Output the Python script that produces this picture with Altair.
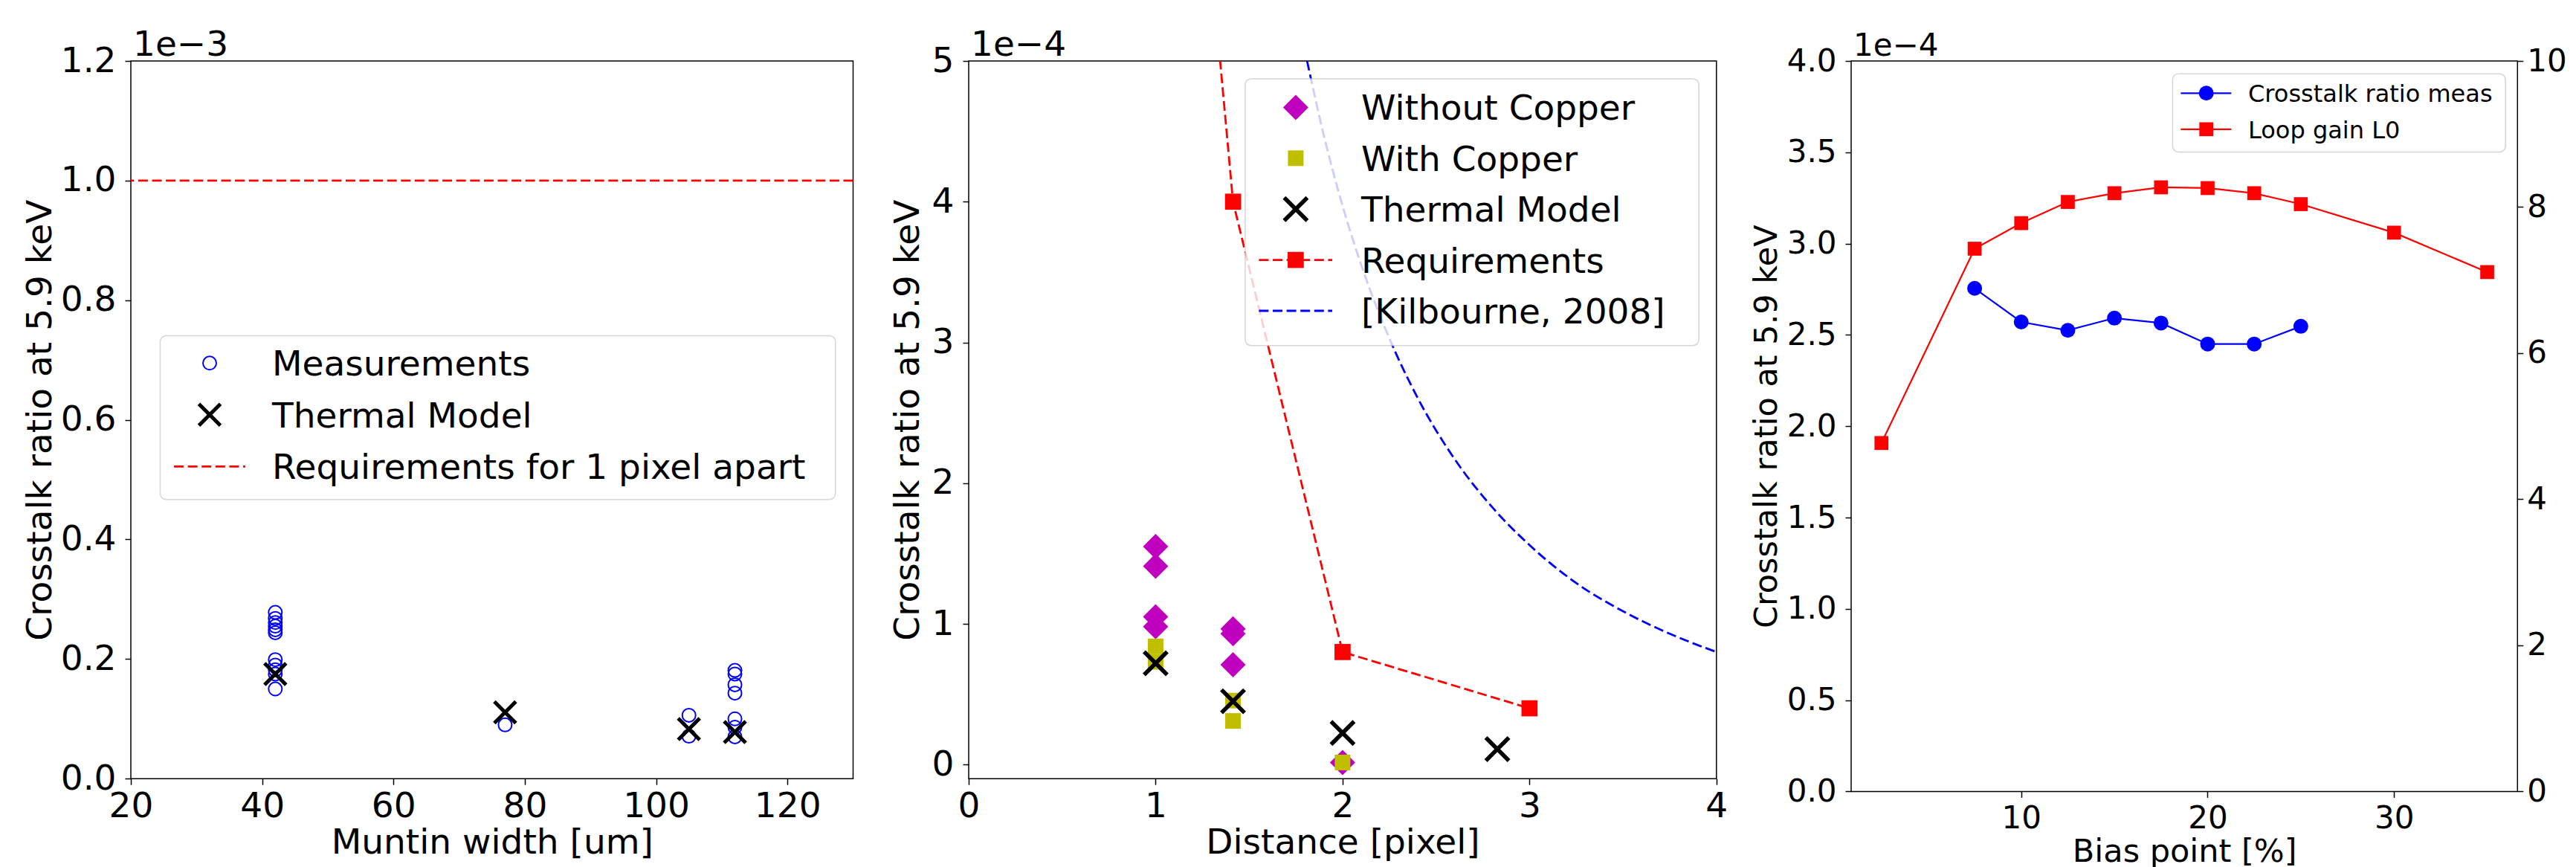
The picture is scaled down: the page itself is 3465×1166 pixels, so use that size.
import altair as alt
import pandas as pd

FONT = "DejaVu Sans"
XSHAPE = "M -1 -1 L 1 1 M -1 1 L 1 -1"
DASH = [13, 5.6]
BLUE, RED, MAG, OLIVE = "#0000ff", "#ff0000", "#bf00bf", "#bfbf00"

# ---------------- data ----------------
# Panel 1: crosstalk ratio (x 1e-3) vs muntin width [um]
meas_width = [42, 42, 42, 42, 42, 42, 42, 42, 42, 42, 42, 77, 105, 105,
              112, 112, 112, 112, 112, 112, 112]
meas_ratio = [0.278, 0.268, 0.261, 0.255, 0.249, 0.244, 0.199, 0.190, 0.182, 0.175, 0.150,
              0.090, 0.106, 0.071, 0.181, 0.175, 0.157, 0.143, 0.100, 0.086, 0.070]
model1_width = [42, 77, 105, 112]
model1_ratio = [0.175, 0.111, 0.083, 0.078]
req1_level = [1.0]
legend1_labels = ["Measurements", "Thermal Model", "Requirements for 1 pixel apart"]

# Panel 2: crosstalk ratio (x 1e-4) vs distance [pixel]
nocu_dist = [1, 1, 1, 1, 1.414, 1.414, 1.414, 2]
nocu_ratio = [1.55, 1.41, 1.05, 0.98, 0.965, 0.93, 0.71, 0.015]
cu_dist = [1, 1, 1.414, 1.414, 2]
cu_ratio = [0.84, 0.73, 0.455, 0.31, 0.015]
model2_dist = [1, 1.414, 2, 2.828]
model2_ratio = [0.72, 0.45, 0.225, 0.11]
req2_dist = [1, 1.414, 2, 3]
req2_ratio = [10.0, 4.0, 0.8, 0.4]
kil_dist = [1.81, 1.9, 2.0, 2.1, 2.25, 2.4, 2.6, 2.8, 3.0, 3.25, 3.5, 3.75, 4.0]
kil_ratio = [5.0, 4.47, 3.97, 3.55, 3.03, 2.61, 2.17, 1.83, 1.56, 1.29, 1.09, 0.93, 0.80]
legend2_labels = ["Without Copper", "With Copper", "Thermal Model", "Requirements", "[Kilbourne, 2008]"]

# Panel 3: crosstalk ratio (x 1e-4) and loop gain vs bias point [%]
bias_meas = [7.5, 10, 12.5, 15, 17.5, 20, 22.5, 25]
xt_meas = [2.755, 2.571, 2.525, 2.592, 2.565, 2.45, 2.45, 2.547]
bias_loop = [2.5, 7.5, 10, 12.5, 15, 17.5, 20, 22.5, 25, 30, 35]
loop_gain = [4.77, 7.43, 7.78, 8.07, 8.19, 8.27, 8.26, 8.19, 8.04, 7.65, 7.11]
legend3_labels = ["Crosstalk ratio meas", "Loop gain L0"]

offset_labels = ["1e\u22123", "1e\u22124", "1e\u22124"]

ONE = pd.DataFrame({"k": [0]})


def xaxis(title, values, fmt, fs_lab, fs_tit, width, title_y, lpad=6, tick=8):
    return alt.Axis(title=title, values=values, format=fmt, grid=False, domain=False,
                    tickSize=tick, tickWidth=1.5, tickColor="black",
                    labelFont=FONT, labelFontSize=fs_lab, labelColor="black", labelPadding=lpad,
                    labelFlush=False, labelOverlap=False,
                    titleFont=FONT, titleFontSize=fs_tit, titleFontWeight="normal", titleColor="black",
                    titleX=width / 2, titleY=title_y, titleBaseline="alphabetic",
                    titleAlign="center", titleAngle=0)


def yaxis(title, values, fmt, fs_lab, fs_tit, height, title_x, lpad=12, tick=8):
    return alt.Axis(title=title, values=values, format=fmt, grid=False, domain=False,
                    tickSize=tick, tickWidth=1.5, tickColor="black",
                    labelFont=FONT, labelFontSize=fs_lab, labelColor="black", labelPadding=lpad,
                    labelFlush=False, labelOverlap=False,
                    titleFont=FONT, titleFontSize=fs_tit, titleFontWeight="normal", titleColor="black",
                    titleX=title_x, titleY=height / 2, titleBaseline="alphabetic",
                    titleAlign="center", titleAngle=270)


def frame(x0, x1, y0, y1):
    return alt.Chart(ONE).mark_rect(fill="white", stroke="#cccccc", strokeWidth=1.5,
                                    cornerRadius=8, opacity=0.8).encode(
        x=alt.value(x0), x2=alt.value(x1), y=alt.value(y0), y2=alt.value(y1))


def sym(x, y, **mk):
    return alt.Chart(ONE).mark_point(opacity=1, **mk).encode(x=alt.value(x), y=alt.value(y))


def seg(x0, x1, y, **mk):
    return alt.Chart(ONE).mark_rule(**mk).encode(x=alt.value(x0), x2=alt.value(x1), y=alt.value(y))


def label(x, y, text, fs):
    return alt.Chart(pd.DataFrame({"t": [text]})).mark_text(
        align="left", baseline="alphabetic", font=FONT, fontSize=fs, color="black").encode(
        x=alt.value(x), y=alt.value(y), text="t:N")


# ---------------- panel 1 ----------------
W1, H1 = 971.5, 965.2
x1s = alt.Scale(domain=[20, 130], nice=False, zero=False)
y1s = alt.Scale(domain=[0, 1.2], nice=False, zero=False)
x1a = xaxis("Muntin width [um]", [20, 40, 60, 80, 100, 120], "d", 47, 47, W1, 100.5)
y1a = yaxis("Crosstalk ratio at 5.9 keV", [0, 0.2, 0.4, 0.6, 0.8, 1.0, 1.2], ".1f", 47, 47, H1, -108)

req1 = alt.Chart(pd.DataFrame({"r": req1_level})).mark_rule(
    color=RED, strokeDash=DASH, strokeWidth=2.8).encode(
    y=alt.Y("r:Q", scale=y1s, axis=y1a))
meas1 = alt.Chart(pd.DataFrame({"w": meas_width, "r": meas_ratio})).mark_point(
    shape="circle", filled=False, color=BLUE, size=324, strokeWidth=2, opacity=1).encode(
    x=alt.X("w:Q", scale=x1s, axis=x1a), y=alt.Y("r:Q", scale=y1s, axis=y1a))
model1 = alt.Chart(pd.DataFrame({"w": model1_width, "r": model1_ratio})).mark_point(
    shape=XSHAPE, filled=False, color="black", size=841, strokeWidth=5, opacity=1).encode(
    x=alt.X("w:Q", scale=x1s, axis=x1a), y=alt.Y("r:Q", scale=y1s, axis=y1a))

p1 = alt.layer(
    req1, meas1, model1,
    label(3, -7, offset_labels[0], 47),
    frame(39.5, 947.8, 369.4, 589.8),
    sym(106, 406.3, shape="circle", filled=False, color=BLUE, size=324, strokeWidth=2),
    label(190, 423.3, legend1_labels[0], 47),
    sym(106, 475.8, shape=XSHAPE, filled=False, color="black", size=841, strokeWidth=5),
    label(190, 492.8, legend1_labels[1], 47),
    seg(58, 154, 545.3, color=RED, strokeDash=DASH, strokeWidth=2.8),
    label(190, 562.3, legend1_labels[2], 47),
    # invisible anchor fixing the canvas origin
    alt.Chart(ONE).mark_rule(opacity=0).encode(
        x=alt.value(-167), x2=alt.value(-166), y=alt.value(-72.8), y2=alt.value(-72.8)),
).properties(width=W1, height=H1)

# ---------------- panel 2 ----------------
W2, H2 = 1005.8, 965.2
x2s = alt.Scale(domain=[0, 4], nice=False, zero=False)
y2s = alt.Scale(domain=[-0.1, 5], nice=False, zero=False)
x2a = xaxis("Distance [pixel]", [0, 1, 2, 3, 4], "d", 47, 47, W2, 100.5)
y2a = yaxis("Crosstalk ratio at 5.9 keV", [0, 1, 2, 3, 4, 5], "d", 47, 47, H2, -68)


def enc2(ch):
    return ch.encode(x=alt.X("d:Q", scale=x2s, axis=x2a), y=alt.Y("r:Q", scale=y2s, axis=y2a))


nocu = enc2(alt.Chart(pd.DataFrame({"d": nocu_dist, "r": nocu_ratio})).mark_point(
    shape="diamond", filled=True, color=MAG, size=1156, opacity=1))
cu = enc2(alt.Chart(pd.DataFrame({"d": cu_dist, "r": cu_ratio})).mark_point(
    shape="square", filled=True, color=OLIVE, size=441, opacity=1))
model2 = enc2(alt.Chart(pd.DataFrame({"d": model2_dist, "r": model2_ratio})).mark_point(
    shape=XSHAPE, filled=False, color="black", size=961, strokeWidth=5.5, opacity=1))
req2_df = pd.DataFrame({"d": req2_dist, "r": req2_ratio})
req2_line = enc2(alt.Chart(req2_df).mark_line(color=RED, strokeDash=DASH, strokeWidth=2.8, clip=True))
req2_pts = enc2(alt.Chart(req2_df).mark_point(
    shape="square", filled=True, color=RED, size=470, opacity=1, clip=True))
kil = enc2(alt.Chart(pd.DataFrame({"d": kil_dist, "r": kil_ratio})).mark_line(
    color=BLUE, strokeDash=DASH, strokeWidth=2.8, clip=True, interpolate="monotone"))

p2 = alt.layer(
    nocu, cu, model2, req2_line, req2_pts, kil,
    label(3, -7, offset_labels[1], 47),
    frame(371.9, 982.1, 23.9, 382.7),
    sym(439.9, 62.4, shape="diamond", filled=True, color=MAG, size=1156),
    label(528, 79.4, legend2_labels[0], 47),
    sym(439.9, 130.8, shape="square", filled=True, color=OLIVE, size=441),
    label(528, 147.8, legend2_labels[1], 47),
    sym(439.9, 199.2, shape=XSHAPE, filled=False, color="black", size=961, strokeWidth=5.5),
    label(528, 216.2, legend2_labels[2], 47),
    seg(390.4, 489, 267.6, color=RED, strokeDash=DASH, strokeWidth=2.8),
    sym(439.9, 267.6, shape="square", filled=True, color=RED, size=470),
    label(528, 284.6, legend2_labels[3], 47),
    seg(390.4, 489, 336.0, color=BLUE, strokeDash=DASH, strokeWidth=2.8),
    label(528, 353.0, legend2_labels[4], 47),
).properties(width=W2, height=H2)

# ---------------- panel 3 ----------------
W3, H3 = 896.3, 982.4
x3s = alt.Scale(domain=[0.875, 36.625], nice=False, zero=False)
y3s = alt.Scale(domain=[0, 4], nice=False, zero=False)
y3rs = alt.Scale(domain=[0, 10], nice=False, zero=False)
x3a = xaxis("Bias point [%]", [10, 20, 30], "d", 42, 43, W3, 94, lpad=8)
y3a = yaxis("Crosstalk ratio at 5.9 keV", [0, 0.5, 1, 1.5, 2, 2.5, 3, 3.5, 4], ".1f", 42, 43, H3, -101)
y3ra = alt.Axis(orient="right", title=None, values=[0, 2, 4, 6, 8, 10], format="d", grid=False,
                domain=False, tickSize=7.5, tickWidth=1.5, tickColor="black",
                labelFont=FONT, labelFontSize=42, labelColor="black", labelPadding=5,
                labelFlush=False, labelOverlap=False)

meas3_df = pd.DataFrame({"b": bias_meas, "v": xt_meas})
loop3_df = pd.DataFrame({"b": bias_loop, "g": loop_gain})
left3 = alt.layer(
    alt.Chart(meas3_df).mark_line(color=BLUE, strokeWidth=2.2),
    alt.Chart(meas3_df).mark_point(shape="circle", filled=True, color=BLUE, size=400, opacity=1),
).encode(x=alt.X("b:Q", scale=x3s, axis=x3a), y=alt.Y("v:Q", scale=y3s, axis=y3a))
right3 = alt.layer(
    alt.Chart(loop3_df).mark_line(color=RED, strokeWidth=2.2),
    alt.Chart(loop3_df).mark_point(shape="square", filled=True, color=RED, size=350, opacity=1),
).encode(x=alt.X("b:Q", scale=x3s, axis=x3a), y=alt.Y("g:Q", scale=y3rs, axis=y3ra))

p3 = alt.layer(
    left3, right3,
    label(3, -7, offset_labels[2], 42),
    frame(432.4, 880.2, 17.2, 122.4),
    seg(443.4, 511.3, 43.3, color=BLUE, strokeWidth=2.2),
    sym(477.7, 43.3, shape="circle", filled=True, color=BLUE, size=400),
    label(534, 55.2, legend3_labels[0], 32),
    seg(443.4, 511.3, 91.8, color=RED, strokeWidth=2.2),
    sym(477.7, 91.8, shape="square", filled=True, color=RED, size=350),
    label(534, 103.7, legend3_labels[1], 32),
).resolve_scale(y="independent").properties(width=W3, height=H3)


def spacer(w):
    return alt.Chart(ONE).mark_point(opacity=0).encode(
        x=alt.value(0), y=alt.value(0)).properties(
        width=w, height=10, view=alt.ViewBackground(strokeOpacity=0))


chart = alt.hconcat(p1, spacer(154.2), p2, spacer(180.2), p3,
                    spacing=0, bounds="flush", padding=0).configure(
    background="white").configure_view(stroke="black", strokeWidth=1.5)

chart.save("out.html", embed_options={"renderer": "svg", "actions": False})
